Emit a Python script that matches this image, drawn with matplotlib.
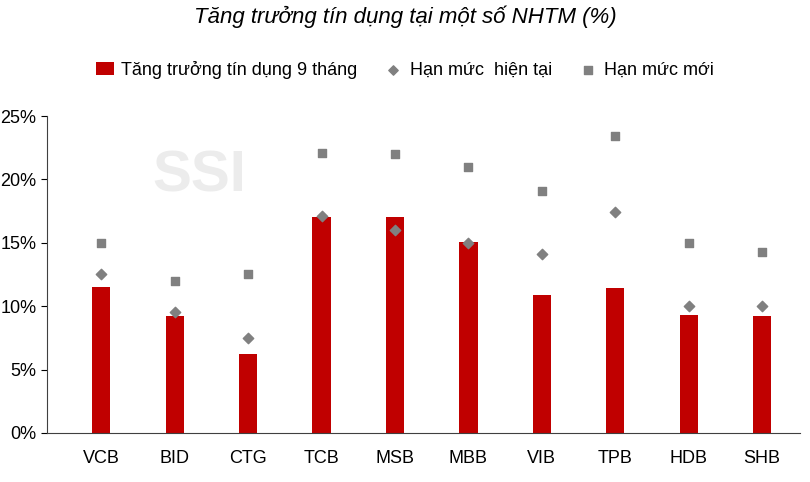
import matplotlib
matplotlib.use("Agg")
import matplotlib.pyplot as plt
from matplotlib import font_manager as fm

names = {f.name for f in fm.fontManager.ttflist}
fam = ["Liberation Sans Narrow", "DejaVu Sans"] if "Liberation Sans Narrow" in names else ["Liberation Sans", "DejaVu Sans"]
plt.rcParams['font.family'] = fam

banks = ["VCB", "BID", "CTG", "TCB", "MSB", "MBB", "VIB", "TPB", "HDB", "SHB"]
growth = [11.5, 9.2, 6.2, 17.0, 17.0, 15.1, 10.9, 11.4, 9.3, 9.2]
current = [12.5, 9.5, 7.5, 17.1, 16.0, 15.0, 14.1, 17.4, 10.0, 10.0]
new = [15.0, 12.0, 12.5, 22.1, 22.0, 21.0, 19.1, 23.4, 15.0, 14.3]

fig = plt.figure(figsize=(8.1, 4.82), dpi=100)
ax = fig.add_axes([0.058, 0.102, 0.93, 0.657])
x = list(range(len(banks)))
b = ax.bar(x, growth, width=0.25, color="#c00000", label="Tăng trưởng tín dụng 9 tháng", zorder=2)
d = ax.scatter(x, current, marker="D", s=28, color="#808080", label="Hạn mức  hiện tại", zorder=3)
s = ax.scatter(x, new, marker="s", s=40, color="#808080", label="Hạn mức mới", zorder=3)
ax.set_ylim(0, 25)
ax.set_xlim(-0.74, 9.52)
ax.set_yticks([0, 5, 10, 15, 20, 25])
ax.set_yticklabels([f"{v}%" for v in [0, 5, 10, 15, 20, 25]], fontsize=13)
ax.set_xticks(x)
ax.set_xticklabels(banks, fontsize=13)
ax.tick_params(axis="x", length=0, pad=12)
ax.tick_params(axis="y", direction="out", length=4)
for sp in ["top", "right"]:
    ax.spines[sp].set_visible(False)
ax.spines["left"].set_color("#404040")
ax.spines["bottom"].set_color("#404040")
ax.text(0.14, 0.81, "SSI", transform=ax.transAxes, fontsize=42, fontweight="bold",
        color="#ececec", ha="left", va="center", zorder=0)
fig.text(0.5, 0.965, "Tăng trưởng tín dụng tại một số NHTM (%)", ha="center", va="center",
         fontsize=16, style="italic")
fig.legend([b, d, s], [b.get_label(), d.get_label(), s.get_label()],
           loc="center", bbox_to_anchor=(0.5, 0.855), ncol=3, frameon=False, fontsize=13,
           handlelength=1.0, handletextpad=0.4, columnspacing=1.5, markerscale=0.9)
fig.savefig("out.png", dpi=100)
